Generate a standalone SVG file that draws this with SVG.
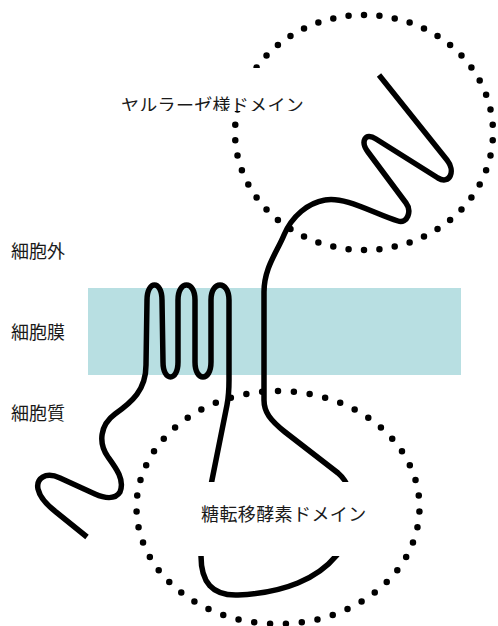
<svg xmlns="http://www.w3.org/2000/svg" width="498" height="626" viewBox="0 0 498 626">
  <defs>
    <style>
      .label { font-family: "Noto Sans CJK JP", "Noto Sans", sans-serif; font-size: 18px; fill: #1a1a1a; }
      .domain { fill: none; stroke: #000; stroke-width: 6.5; stroke-linecap: round; stroke-dasharray: 0 1; }
      .chain { fill: none; stroke: #000; stroke-width: 5.5; stroke-linecap: butt; stroke-linejoin: round; }
      .label-bg { fill: #fff; }
    </style>
    <clipPath id="clip-top-label">
      <rect x="113" y="68" width="199" height="43"/>
    </clipPath>
  </defs>

  <!-- lipid bilayer -->
  <g id="membrane">
    <rect x="88" y="288" width="373" height="87" fill="#b8dfe2"/>
  </g>

  <!-- compartment labels -->
  <g id="compartments" class="label" text-anchor="middle">
    <text x="38" y="258">細胞外</text>
    <text x="38" y="339">細胞膜</text>
    <text x="38" y="420">細胞質</text>
  </g>

  <!-- dotted domain outlines -->
  <g id="domain-outlines">
    <path id="lectin-domain" class="domain" pathLength="50"
          d="M364,15 A129,117.5 0 1 1 364,250 A129,117.5 0 1 1 364,15 Z"/>
    <path id="gt-domain" class="domain" pathLength="51"
          d="M278,391 A141.5,116.5 0 1 1 278,624 A141.5,116.5 0 1 1 278,391 Z"/>
  </g>

  <!-- polypeptide chain -->
  <g id="connectors">
    <path id="chain" class="chain" d="
      M379,75 L447,160
      C455.7,171 450,185 438,178
      L376,139
      C365,132 360.2,141.6 368,152
      L406,203
      C412,211 407.5,224 398,221
      C375,214 345,196 325,200
      C308,203 292,216 284,235
      C277,252 264,268 264,292
      L264,400
      C264,412 270,420 285,432
      L338,473
      C360,492 356,535 336,556
      C318,578 285,593 238,595
      C212,596 201,582 201,556
      C201,530 206,505 211,485
      L227,405
      C229,395 229,390 229,380
      L229,300 C229,280 211,280 211,300
      L211,362 C211,382 195,382 195,362
      L195,300 C195,280 178,280 178,300
      L178,362 C178,382 163,382 163,362
      L162,300 C162,280 147,280 147,300
      L146,365
      C146,390 132,402 115,414
      C100,425 98,443 108,457
      C116,468 125,480 120,492
      C115,500 104,498 95,494
      L60,478
      C45,471 36,479 38,489
      C40,498 47,505 56,512
      L87,537"/>
  </g>

  <!-- domain labels -->
  <g id="lectin-label">
    <rect class="label-bg" x="113" y="68" width="199" height="43"/>
    <text class="label" x="121" y="112" letter-spacing="0.3" clip-path="url(#clip-top-label)">ヤルラーゼ様ドメイン</text>
  </g>
  <g id="gt-label">
    <rect class="label-bg" x="193" y="482" width="180" height="74"/>
    <text class="label" x="201" y="521" letter-spacing="0.4">糖転移酵素ドメイン</text>
  </g>
</svg>
